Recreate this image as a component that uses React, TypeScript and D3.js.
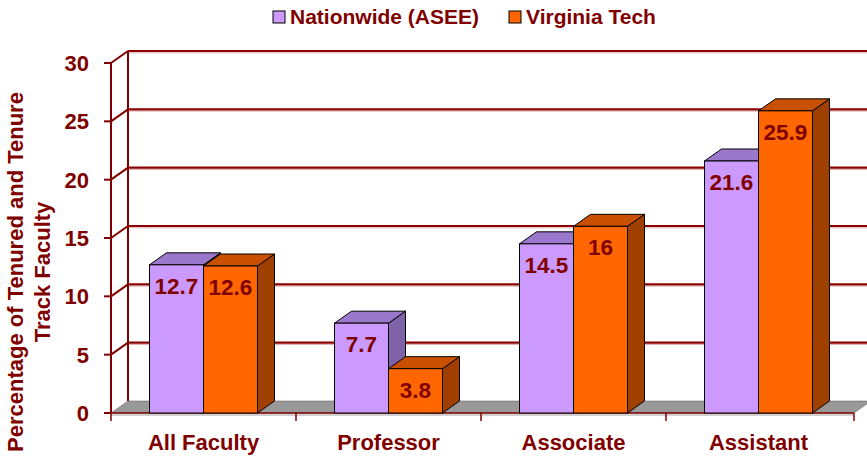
import React, { useEffect, useRef } from "react";
import * as d3 from "d3";

const categories = ["All Faculty", "Professor", "Associate", "Assistant"];
const seriesNames = ["Nationwide (ASEE)", "Virginia Tech"];
const nationwide = [12.7, 7.7, 14.5, 21.6];
const virginiaTech = [12.6, 3.8, 16, 25.9];
const yTicks = [0, 5, 10, 15, 20, 25, 30];

const colors = [
  { front: "#CC99FF", top: "#9A78CC", side: "#7F62A8" },
  { front: "#FF6600", top: "#C85000", side: "#A04000" },
];

export default function App() {
  const ref = useRef<SVGSVGElement>(null);

  useEffect(() => {
    const svg = d3.select(ref.current);
    svg.selectAll("*").remove();
    const W = 867,
      H = 458;
    const left = 111,
      right = 851,
      bottom = 413,
      top = 63;
    const dx = 17,
      dy = -12;
    const red = "#800000";
    const font = "'Liberation Sans', Arial, sans-serif";

    const y = d3.scaleLinear().domain([0, 30]).range([bottom, top]);
    const x0 = d3.scaleBand().domain(categories).range([left, right]).padding(0);
    const groupW = 108;
    const x1 = d3.scaleBand().domain(seriesNames).range([0, groupW]).padding(0);
    const offset = (x0.bandwidth() - groupW) / 2;

    // back wall gridlines
    const g = svg.append("g");
    yTicks.filter((t) => t > 0).forEach((t) => {
      g.append("line")
        .attr("x1", left + dx)
        .attr("x2", W + 5)
        .attr("y1", y(t) + dy + 1.8)
        .attr("y2", y(t) + dy + 1.8)
        .attr("stroke", "#E0B0B0")
        .attr("stroke-width", 1);
      g.append("line")
        .attr("x1", left + dx)
        .attr("x2", W + 5)
        .attr("y1", y(t) + dy)
        .attr("y2", y(t) + dy)
        .attr("stroke", "#8B0000")
        .attr("stroke-width", 2.2);
      // left wall diagonal
      g.append("line")
        .attr("x1", left)
        .attr("y1", y(t))
        .attr("x2", left + dx)
        .attr("y2", y(t) + dy)
        .attr("stroke", red)
        .attr("stroke-width", 2);
    });
    // left wall back vertical
    g.append("line")
      .attr("x1", left + dx)
      .attr("x2", left + dx)
      .attr("y1", y(30) + dy)
      .attr("y2", y(0) + dy)
      .attr("stroke", red)
      .attr("stroke-width", 2);

    // floor
    g.append("line")
      .attr("x1", left)
      .attr("x2", right + 3)
      .attr("y1", bottom + 2)
      .attr("y2", bottom + 2)
      .attr("stroke", "#D0D0D0")
      .attr("stroke-width", 2);
    g.append("polygon")
      .attr(
        "points",
        [
          [left, bottom],
          [left + dx, bottom + dy],
          [right + 3 + dx, bottom + dy],
          [right + 3, bottom],
        ].join(" ")
      )
      .attr("fill", "#999999")
      .attr("stroke", "#555")
      .attr("stroke-width", 0.5);

    // front y axis
    g.append("line")
      .attr("x1", left)
      .attr("x2", left)
      .attr("y1", y(30))
      .attr("y2", y(0))
      .attr("stroke", red)
      .attr("stroke-width", 2);
    yTicks.forEach((t) => {
      g.append("line")
        .attr("x1", left - 7)
        .attr("x2", left)
        .attr("y1", y(t))
        .attr("y2", y(t))
        .attr("stroke", red)
        .attr("stroke-width", 2);
      g.append("text")
        .attr("x", 89)
        .attr("y", y(t))
        .attr("dy", "0.36em")
        .attr("text-anchor", "end")
        .attr("font-family", font)
        .attr("font-weight", "bold")
        .attr("font-size", 22)
        .attr("fill", red)
        .text(t);
    });

    // x axis
    g.append("line")
      .attr("x1", left)
      .attr("x2", right + 3)
      .attr("y1", bottom)
      .attr("y2", bottom)
      .attr("stroke", red)
      .attr("stroke-width", 1.5);
    const xTicks = [...categories.map((c) => x0(c) as number), right + 3];
    xTicks.forEach((xt) => {
      g.append("line")
        .attr("x1", xt)
        .attr("x2", xt)
        .attr("y1", bottom)
        .attr("y2", bottom + 8)
        .attr("stroke", red)
        .attr("stroke-width", 1.5);
    });
    categories.forEach((c) => {
      g.append("text")
        .attr("x", (x0(c) as number) + x0.bandwidth() / 2)
        .attr("y", 450)
        .attr("text-anchor", "middle")
        .attr("font-family", font)
        .attr("font-weight", "bold")
        .attr("font-size", 22)
        .attr("fill", red)
        .text(c);
    });

    // bars
    const data = [nationwide, virginiaTech];
    categories.forEach((c, i) => {
      seriesNames.forEach((s, si) => {
        const v = data[si][i];
        const bx = (x0(c) as number) + offset + (x1(s) as number);
        const bw = x1.bandwidth();
        const yt = y(v);
        const col = colors[si];
        const bg = svg.append("g");
        bg.append("polygon")
          .attr(
            "points",
            [
              [bx + bw, yt],
              [bx + bw + dx, yt + dy],
              [bx + bw + dx, bottom + dy],
              [bx + bw, bottom],
            ].join(" ")
          )
          .attr("fill", col.side)
          .attr("stroke", "#000")
          .attr("stroke-width", 1);
        bg.append("polygon")
          .attr(
            "points",
            [
              [bx, yt],
              [bx + dx, yt + dy],
              [bx + bw + dx, yt + dy],
              [bx + bw, yt],
            ].join(" ")
          )
          .attr("fill", col.top)
          .attr("stroke", "#000")
          .attr("stroke-width", 1);
        bg.append("rect")
          .attr("x", bx)
          .attr("y", yt)
          .attr("width", bw)
          .attr("height", bottom - yt)
          .attr("fill", col.front)
          .attr("stroke", "#000")
          .attr("stroke-width", 1);
        bg.append("text")
          .attr("x", bx + bw / 2)
          .attr("y", yt + 29)
          .attr("text-anchor", "middle")
          .attr("font-family", font)
          .attr("font-weight", "bold")
          .attr("font-size", 22.5)
          .attr("fill", red)
          .text(v);
      });
    });

    // legend
    const legendX = [273, 509];
    seriesNames.forEach((s, si) => {
      svg.append("rect")
        .attr("x", legendX[si])
        .attr("y", 11)
        .attr("width", 12)
        .attr("height", 12)
        .attr("fill", colors[si].front)
        .attr("stroke", "#000")
        .attr("stroke-width", 1);
      svg.append("text")
        .attr("x", legendX[si] + 17)
        .attr("y", 24)
        .attr("font-family", font)
        .attr("font-weight", "bold")
        .attr("font-size", 21)
        .attr("fill", red)
        .text(s);
    });

    // y axis title
    const yl = svg
      .append("text")
      .attr("transform", "translate(0,272) rotate(-90)")
      .attr("text-anchor", "middle")
      .attr("font-family", font)
      .attr("font-weight", "bold")
      .attr("font-size", 22)
      .attr("fill", red);
    yl.append("tspan").attr("x", 0).attr("y", 23).text("Percentage of Tenured and Tenure");
    yl.append("tspan").attr("x", 0).attr("y", 50).text("Track Faculty");

    svg.attr("width", W).attr("height", H);
  }, []);

  return (
    <svg
      ref={ref}
      width={867}
      height={458}
      style={{ position: "absolute", left: 0, top: 0, background: "#fff" }}
    />
  );
}
